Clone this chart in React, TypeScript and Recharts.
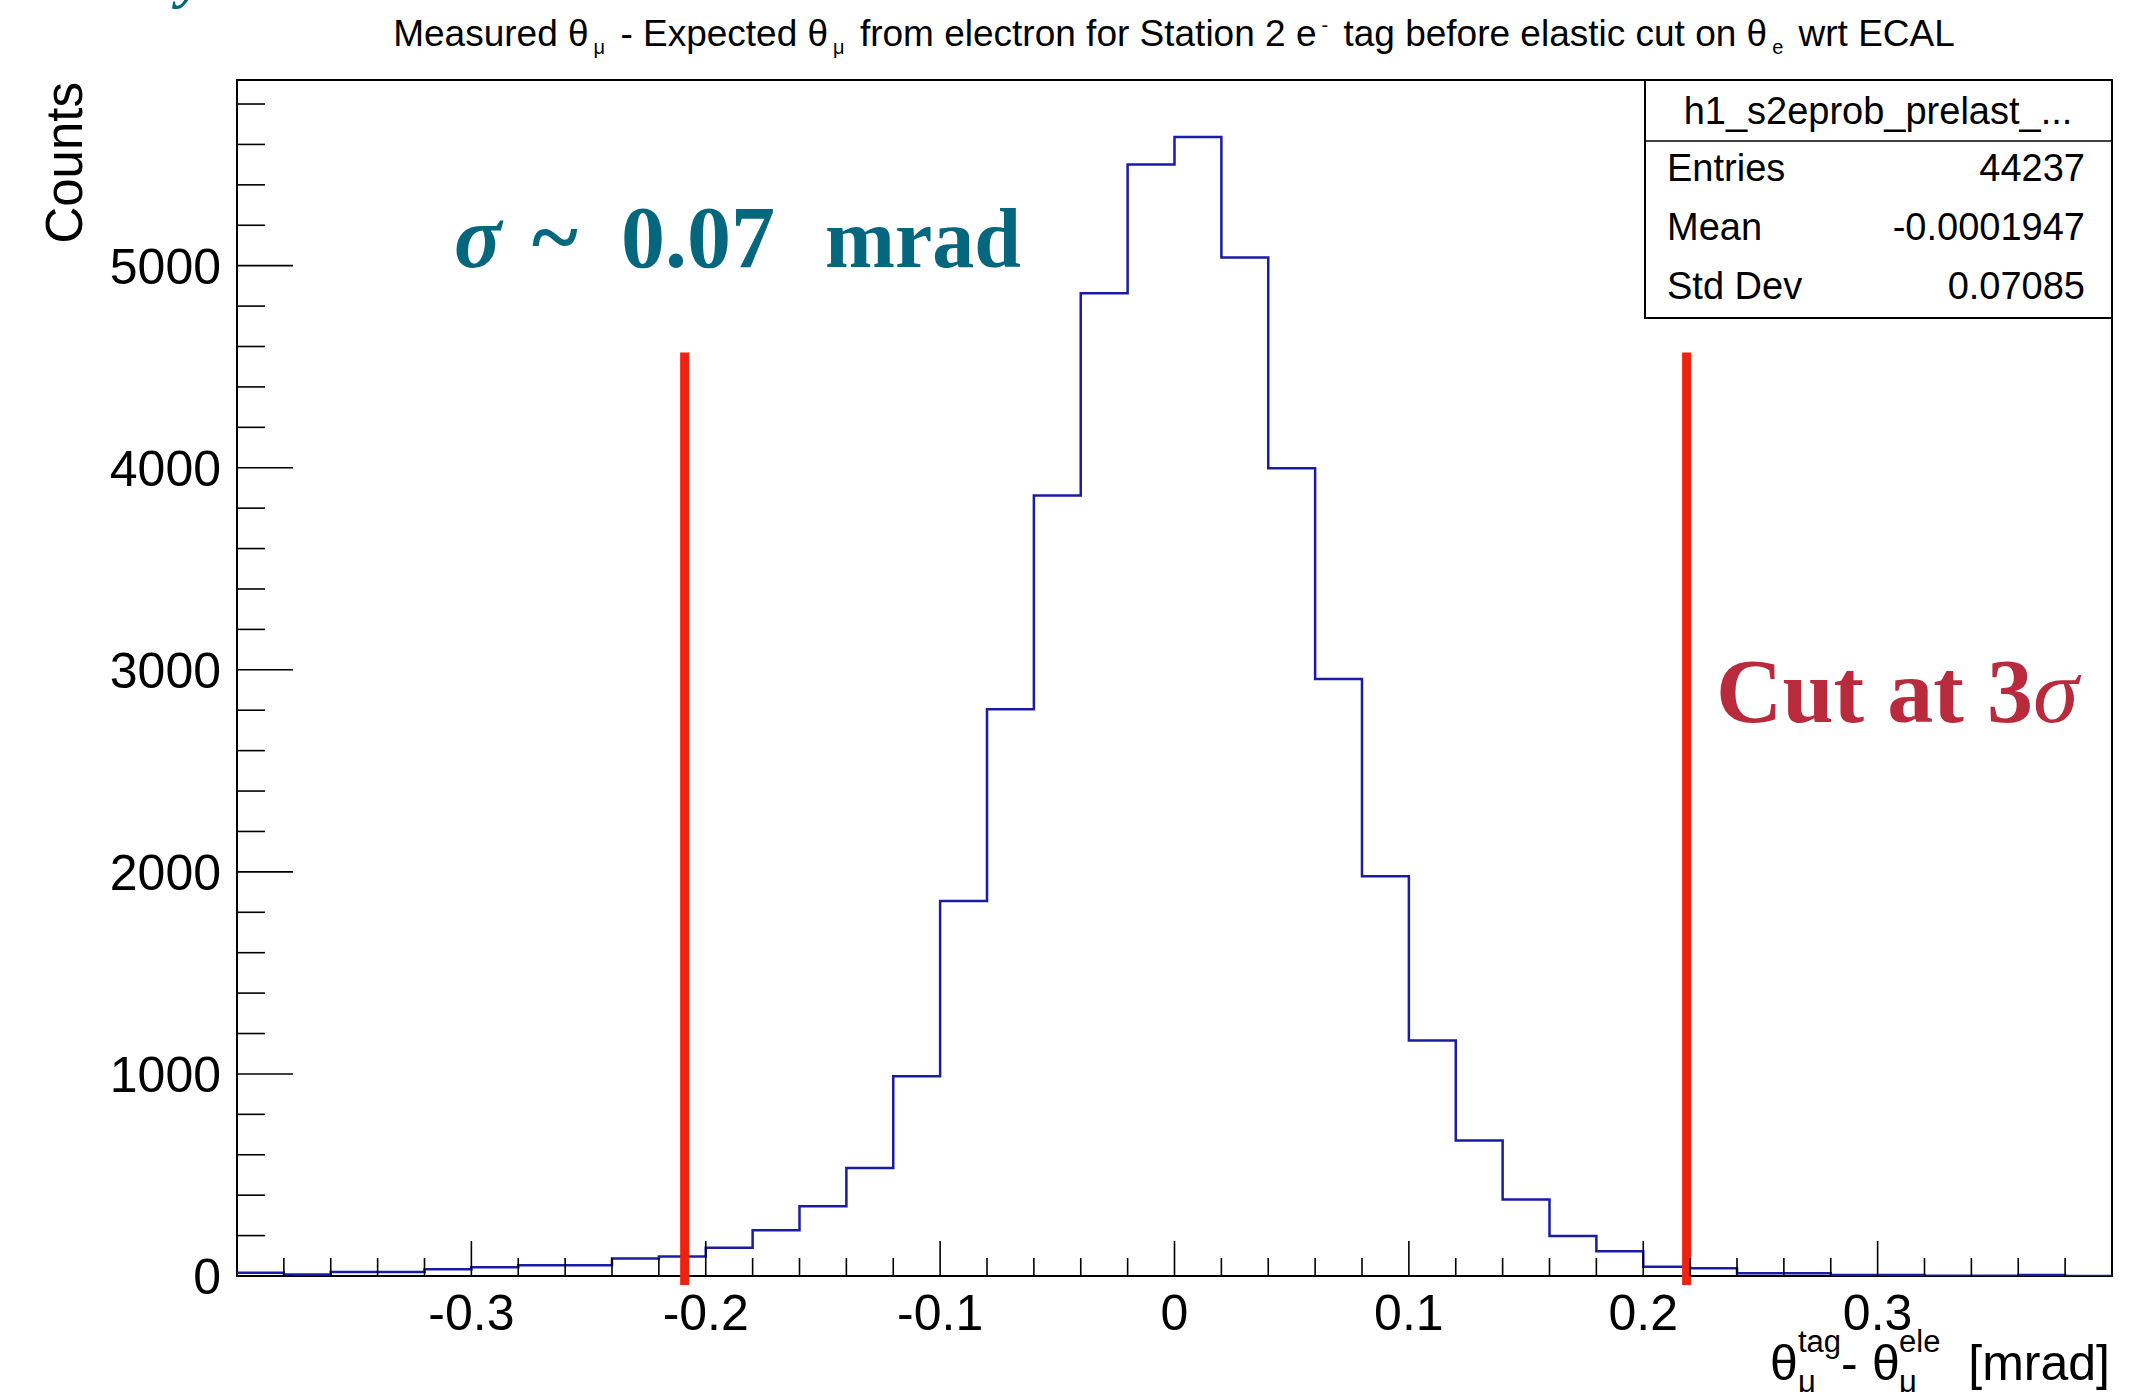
import React from 'react';
import { ComposedChart, Line, XAxis, YAxis, ReferenceLine, ReferenceArea } from 'recharts';

// 40 bins of 0.02 mrad between -0.4 and 0.4
const binCounts = [
  16, 7, 20, 20, 33, 43, 53, 53, 87, 97,
  140, 226, 345, 535, 989, 1856, 2805, 3862, 4864, 5501,
  5637, 5041, 3997, 2954, 1978, 1165, 671, 379, 198, 122,
  46, 38, 13, 13, 5, 5, 1, 1, 5, 0,
];
const histLow = -0.4;
const histHigh = 0.4;
const binWidth = 0.02;

const xMajorTicks = [-0.3, -0.2, -0.1, 0, 0.1, 0.2, 0.3];
const xTickLabels = ['-0.3', '-0.2', '-0.1', '0', '0.1', '0.2', '0.3'];
const yMajorTicks = [0, 1000, 2000, 3000, 4000, 5000];
const yTickLabels = ['0', '1000', '2000', '3000', '4000', '5000'];

// 3 sigma cut positions and the height of the drawn cut markers
const cutPositions = [-0.209, 0.2185];
const cutTop = 4570;
const cutBottom = -45;

const statsRows = [
  ['Entries', '44237'],
  ['Mean', '-0.0001947'],
  ['Std Dev', '0.07085'],
];

const SANS = '"Liberation Sans", Arial, Helvetica, sans-serif';
const SERIF = '"Liberation Serif", "Times New Roman", serif';
const HIST_BLUE = '#1b1ba6';
const TEAL = '#04677e';
const CRIMSON = '#b82a3c';

const yMax = Math.max(...binCounts) * 1.05;

// step points at the low edge of each bin, plus the closing edge
const histData = binCounts
  .map((c, i) => ({ x: +(histLow + i * binWidth).toFixed(3), count: c }))
  .concat([{ x: histHigh, count: binCounts[binCounts.length - 1] }]);

const xMinorTicks = Array.from({ length: 39 }, (_, i) => +(histLow + (i + 1) * binWidth).toFixed(3));
const yMinorTicks = Array.from({ length: 30 }, (_, i) => i * 200);

const W = 2146;
const H = 1392;

const XTick = (props: any) => {
  const { x, y, payload } = props;
  const idx = xMajorTicks.findIndex((m) => Math.abs(m - payload.value) < 1e-6);
  const major = idx >= 0;
  return (
    <g>
      <line x1={x} x2={x} y1={y} y2={y - (major ? 35 : 18)} stroke="#000" strokeWidth={1.6} />
      {major && (
        <text x={x} y={y + 54} textAnchor="middle" fontSize={50} fontFamily={SANS} fill="#000">
          {xTickLabels[idx]}
        </text>
      )}
    </g>
  );
};

const YTick = (props: any) => {
  const { x, y, payload } = props;
  const idx = yMajorTicks.indexOf(payload.value);
  const major = idx >= 0;
  return (
    <g>
      <line x1={x} x2={x + (major ? 56 : 28)} y1={y} y2={y} stroke="#000" strokeWidth={1.6} />
      {major && (
        <text x={x - 16} y={y + 18} textAnchor="end" fontSize={50} fontFamily={SANS} fill="#000">
          {yTickLabels[idx]}
        </text>
      )}
    </g>
  );
};

// ROOT-style sub/superscript inside a text run
const Sub = ({ children, size, dy }: { children: React.ReactNode; size: number; dy: number }) => (
  <>
    <tspan dx={5} dy={dy} fontSize={size}>{children}</tspan>
    <tspan dy={-dy} dx={5}> </tspan>
  </>
);

const Overlay = () => (
  <svg width={W} height={H} style={{ position: 'absolute', left: 0, top: 0, pointerEvents: 'none' }}>
    {/* title */}
    <text x={1174} y={46} textAnchor="middle" fontSize={37} fontFamily={SANS} fill="#000">
      Measured θ<Sub size={20} dy={8}>μ</Sub>- Expected θ<Sub size={20} dy={8}>μ</Sub>from electron for Station 2 e
      <Sub size={20} dy={-14}>-</Sub>tag before elastic cut on θ<Sub size={20} dy={8}>e</Sub>wrt ECAL
    </text>

    {/* y axis title */}
    <text transform="translate(82,82) rotate(-90)" textAnchor="end" fontSize={51} fontFamily={SANS} fill="#000">
      Counts
    </text>

    {/* x axis title */}
    <g fontFamily={SANS} fill="#000">
      <text x={1770} y={1380} fontSize={50}>θ</text>
      <text x={1798} y={1352} fontSize={31}>tag</text>
      <text x={1798} y={1392} fontSize={31}>μ</text>
      <text x={1841} y={1380} fontSize={50}>-</text>
      <text x={1872} y={1380} fontSize={50}>θ</text>
      <text x={1899} y={1352} fontSize={31}>ele</text>
      <text x={1899} y={1392} fontSize={31}>μ</text>
      <text x={2110} y={1380} fontSize={50} textAnchor="end">[mrad]</text>
    </g>

    {/* stats box */}
    <g fontFamily={SANS} fill="#000">
      <rect x={1645} y={80} width={467} height={238} fill="#fff" stroke="#000" strokeWidth={2} />
      <line x1={1645} x2={2112} y1={141} y2={141} stroke="#000" strokeWidth={1.5} />
      <text x={1878} y={124} fontSize={38} textAnchor="middle">h1_s2eprob_prelast_...</text>
      {statsRows.map(([label, value], i) => (
        <g key={label}>
          <text x={1667} y={181 + i * 59} fontSize={38}>{label}</text>
          <text x={2085} y={181 + i * 59} fontSize={38} textAnchor="end">{value}</text>
        </g>
      ))}
    </g>

    {/* annotations */}
    <g fontFamily={SERIF} fontWeight="bold" fill={TEAL}>
      <text x={454} y={267} fontSize={88} fontStyle="italic">σ</text>
      <text x={532} y={267} fontSize={88}>~</text>
      <text x={621} y={267} fontSize={88}>0.07</text>
      <text x={825} y={267} fontSize={84}>mrad</text>
    </g>
    <text x={1716} y={722} fontFamily={SERIF} fontWeight="bold" fill={CRIMSON} fontSize={92}>
      Cut at 3<tspan fontStyle="italic" fontWeight="normal">σ</tspan>
    </text>
    <text x={178} y={-4} fontFamily={SERIF} fontWeight="bold" fontStyle="italic" fill={TEAL} fontSize={60}>y</text>
  </svg>
);

export default function App() {
  return (
    <div style={{ position: 'absolute', left: 0, top: 0, width: W, height: H, background: '#fff' }}>
      <ComposedChart
        width={W}
        height={H}
        data={histData}
        margin={{ top: 80, right: 34, bottom: 86, left: 177 }}
      >
        <XAxis
          type="number"
          dataKey="x"
          domain={[histLow, histHigh]}
          ticks={xMinorTicks}
          interval={0}
          allowDataOverflow
          axisLine={false}
          tickLine={false}
          tickSize={0}
          tickMargin={0}
          height={30}
          tick={<XTick />}
        />
        <YAxis
          type="number"
          domain={[0, yMax]}
          ticks={yMinorTicks}
          interval={0}
          allowDataOverflow
          axisLine={false}
          tickLine={false}
          tickSize={0}
          tickMargin={0}
          width={60}
          tick={<YTick />}
        />
        <ReferenceArea
          x1={histLow}
          x2={histHigh}
          y1={0}
          y2={yMax}
          fill="none"
          stroke="#000"
          strokeWidth={2}
          ifOverflow="visible"
        />
        <Line
          type="stepAfter"
          dataKey="count"
          stroke={HIST_BLUE}
          strokeWidth={2.5}
          dot={false}
          activeDot={false}
          isAnimationActive={false}
        />
        {cutPositions.map((c) => (
          <ReferenceLine
            key={c}
            segment={[{ x: c, y: cutBottom }, { x: c, y: cutTop }]}
            stroke="#ee2211"
            strokeWidth={9}
            ifOverflow="visible"
          />
        ))}
      </ComposedChart>
      <Overlay />
    </div>
  );
}
